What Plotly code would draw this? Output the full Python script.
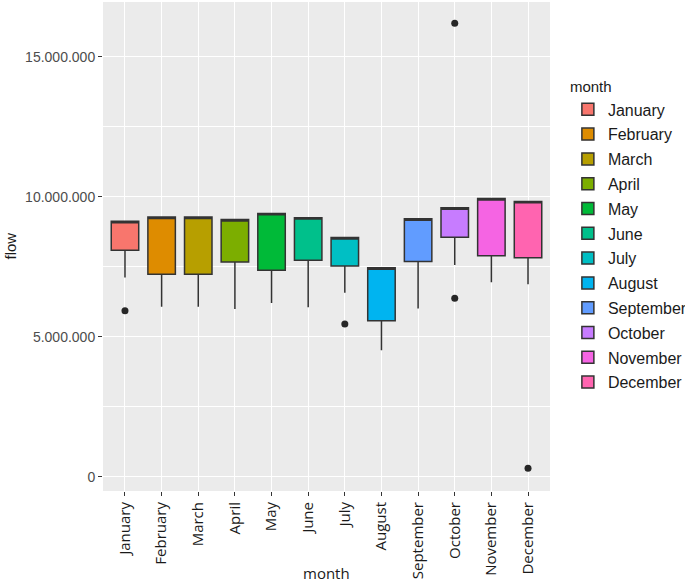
import plotly.graph_objects as go

# monthly flow, box stats
months = ["January", "February", "March", "April", "May", "June",
          "July", "August", "September", "October", "November", "December"]
q1 = [8.09e6, 7.23e6, 7.23e6, 7.67e6, 7.37e6, 7.73e6,
      7.52e6, 5.57e6, 7.68e6, 8.55e6, 7.89e6, 7.82e6]
q3 = [9.12e6, 9.27e6, 9.27e6, 9.18e6, 9.40e6, 9.25e6,
      8.54e6, 7.46e6, 9.21e6, 9.60e6, 9.93e6, 9.83e6]
medians = [9.07e6, 9.22e6, 9.22e6, 9.13e6, 9.35e6, 9.20e6,
           8.49e6, 7.41e6, 9.16e6, 9.55e6, 9.88e6, 9.78e6]
lower = [7.11e6, 6.07e6, 6.07e6, 5.99e6, 6.20e6, 6.05e6,
         6.57e6, 4.52e6, 6.01e6, 7.56e6, 6.94e6, 6.87e6]
upper = q3
out_month = ["January", "July", "October", "October", "December"]
out_flow = [5.93e6, 5.45e6, 6.37e6, 16.19e6, 0.30e6]

colors = ["#F8766D", "#DE8C00", "#B79F00", "#7CAE00", "#00BA38", "#00C08B",
          "#00BFC4", "#00B4F0", "#619CFF", "#C77CFF", "#F564E3", "#FF64B0"]

fig = go.Figure()
for i, m in enumerate(months):
    fig.add_trace(go.Box(
        x=[m], q1=[q1[i]], median=[medians[i]], q3=[q3[i]],
        lowerfence=[lower[i]], upperfence=[upper[i]],
        name=m, legendgroup=m, width=0.75, whiskerwidth=0,
        fillcolor=colors[i], line=dict(color="#333333", width=1.5),
        boxpoints=False, hoverinfo="skip"))

fig.add_trace(go.Scatter(x=out_month, y=out_flow, mode="markers",
                         marker=dict(color="#262626", size=7),
                         showlegend=False, hoverinfo="skip"))

fig.update_layout(
    width=685, height=583,
    margin=dict(l=103, r=135, t=2, b=92, autoexpand=False),
    paper_bgcolor="white", plot_bgcolor="#EBEBEB",
    boxmode="overlay", separators=",.",
    font=dict(family="Liberation Sans", size=14, color="#1a1a1a"),
    legend=dict(title=dict(text="month", font=dict(size=15)),
                x=1.04, xanchor="left", y=0.855, yanchor="top",
                font=dict(size=16), traceorder="grouped", tracegroupgap=1,
                bgcolor="rgba(0,0,0,0)"),
    annotations=[
        dict(text="month", xref="paper", yref="paper", x=0.5, y=-0.168,
             showarrow=False, xanchor="center", yanchor="middle",
             font=dict(family="Open Sans", size=15, color="#1a1a1a")),
        dict(text="flow", xref="paper", yref="paper", x=-0.208, y=0.5,
             showarrow=False, textangle=-90, xanchor="center", yanchor="middle",
             font=dict(family="Liberation Sans", size=15, color="#1a1a1a")),
    ],
)

fig.update_xaxes(
    type="category", categoryorder="array", categoryarray=months,
    range=[-0.6, 11.6], tickangle=-90, automargin=False,
    tickfont=dict(family="Open Sans", size=15, color="#1a1a1a"),
    showgrid=True, gridcolor="white", gridwidth=1.3,
    ticks="outside", ticklen=4, tickcolor="#333333", zeroline=False,
    showline=False)

fig.update_yaxes(
    range=[-0.51e6, 16.95e6], tickvals=[0, 5e6, 10e6, 15e6],
    tickformat=",d", automargin=False,
    tickfont=dict(family="Liberation Sans", size=14, color="#4D4D4D"),
    showgrid=True, gridcolor="white", gridwidth=1.3,
    minor=dict(tickvals=[2.5e6, 7.5e6, 12.5e6], showgrid=True,
               gridcolor="white", gridwidth=0.6),
    ticks="outside", ticklen=4, tickcolor="#333333", zeroline=False,
    showline=False)

fig.write_html("out.html", config={"displayModeBar": False},
               post_script="document.body.style.margin='0';")
